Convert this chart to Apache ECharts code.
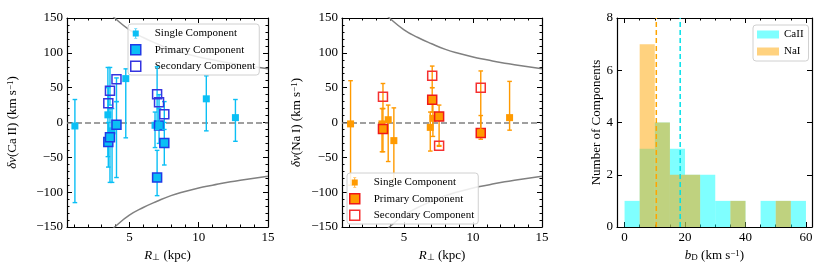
<!DOCTYPE html>
<html><head><meta charset="utf-8">
<script src="https://cdn.jsdelivr.net/npm/echarts@6/dist/echarts.min.js"></script>
<style>html,body{margin:0;padding:0;background:#fff}#c{width:830px;height:277px}</style>
</head><body><div id="c"></div>
<script>
// ---------------- data ----------------
const rTickMajor = [5, 10, 15];
const rTickMinor = [1,2,3,4,5,6,7,8,9,10,11,12,13,14,15];
const bTickMajor = [0, 20, 40, 60];
const bTickMinor = [0,5,10,15,20,25,30,35,40,45,50,55,60];

// Ca II (left panel)
const caSingleR  = [1.07, 3.45, 3.75, 4.74, 6.85, 10.55, 12.65];
const caSingleV  = [-5, 11, -12, 63, -4, 34, 7];
const caSingleLo = [-115, -49, -86, -22, -36, -12, -27];
const caSingleHi = [33, 79, 20, 77, 15, 67, 33];
const caPrimR  = [3.48, 3.6, 4.07, 7.0, 7.14, 7.52];
const caPrimV  = [-28, -21, -3.3, -79, -4.3, -29.6];
const caPrimLo = [-64, -86, -79, -105, -30, -61];
const caPrimHi = [0, 20, 30, -40, 20, 0];
const caSecR  = [3.48, 3.6, 4.07, 7.0, 7.14, 7.52];
const caSecV  = [27.8, 45.5, 62, 40.7, 29, 12];
const caSecLo = [10, 25, 30, -10, 0, -10];
const caSecHi = [50, 79, 64, 80, 40, 30];

// Na I (middle panel)
const naSingleR  = [1.12, 3.4, 3.85, 4.26, 6.9, 7.09, 12.65];
const naSingleV  = [-2, -2, 4, -26, -7, 6, 7];
const naSingleLo = [-90, -42, -56, -82, -41, -20, -11];
const naSingleHi = [60, 20, 25, 21, 15, 30, 59];
const naPrimR  = [3.47, 7.04, 7.54, 10.56];
const naPrimV  = [-9.5, 32.6, 8.6, -15];
const naPrimLo = [-42, 15, -34, -24];
const naPrimHi = [20, 50, 25, 10];
const naSecR  = [3.47, 7.04, 7.54, 10.56];
const naSecV  = [37, 67, -33.4, 50];
const naSecLo = [20, 50, -34, -10];
const naSecHi = [56, 81, -33, 74];

// grey envelope curves
const curveR = [3.5, 4, 5, 6, 7, 8, 9, 10, 11, 12, 13, 14, 15];
const curveV = [159, 149, 133, 122, 113, 105, 99, 94, 90, 86, 83, 80, 77];

// histogram of b_D
const binEdges = [0,5,10,15,20,25,30,35,40,45,50,55,60];
const caCounts = [1,3,4,3,2,2,1,1,0,1,1,1];
const naCounts = [0,7,4,2,2,0,0,1,0,0,1,0];
const caMeanB = 18.4;
const naMeanB = 10.5;

// ---------------- styling ----------------
const FONT = 'Liberation Serif';
const CYAN = '#0abff5', BLUE = '#1f3be6', BLUE2 = '#3434e0';
const ORANGE = '#ff9a00', RED = '#f01818', RED2 = '#f53030';
const GREY = '#808080';
const ts = {fontFamily: FONT, color: '#000'};
const minus = v => (v < 0 ? '\u2212' + (-v) : '' + v);

const chart = echarts.init(document.getElementById('c'), null, {renderer: 'canvas'});

const grids = [
  {left: 67, top: 18, width: 201, height: 209},
  {left: 342, top: 18, width: 200, height: 209},
  {left: 617, top: 18, width: 195, height: 209}
];

const xAxes = [], yAxes = [];
const lineSt = {color: '#000', width: 1.2};
const tickSt = {color: '#000', width: 1};

function addX(gi, min, max, majors, minors, name, rich) {
  const base = {gridIndex: gi, type: 'value', min, max, splitLine: {show: false}};
  const mainIdx = xAxes.length;
  xAxes.push(Object.assign({}, base, {
    position: 'bottom', name, nameLocation: 'middle', nameGap: 21,
    nameTextStyle: Object.assign({fontSize: 13, rich}, ts),
    axisLine: {show: true, onZero: false, lineStyle: lineSt},
    axisTick: {show: true, inside: true, length: 5, customValues: majors, lineStyle: tickSt},
    axisLabel: Object.assign({show: true, customValues: majors, margin: 4, fontSize: 13, formatter: minus}, ts)
  }));
  xAxes.push(Object.assign({}, base, {
    position: 'bottom', axisLine: {show: false, onZero: false},
    axisTick: {show: true, inside: true, length: 2.5, customValues: minors, lineStyle: tickSt},
    axisLabel: {show: false}
  }));
  xAxes.push(Object.assign({}, base, {
    position: 'top', axisLine: {show: true, onZero: false, lineStyle: lineSt},
    axisTick: {show: true, inside: true, length: 5, customValues: majors, lineStyle: tickSt},
    axisLabel: {show: false}
  }));
  xAxes.push(Object.assign({}, base, {
    position: 'top', axisLine: {show: false, onZero: false},
    axisTick: {show: true, inside: true, length: 2.5, customValues: minors, lineStyle: tickSt},
    axisLabel: {show: false}
  }));
  return mainIdx;
}
function addY(gi, min, max, interval, minor, name, gap, rich) {
  const base = {gridIndex: gi, type: 'value', min, max, interval, splitLine: {show: false},
    minorTick: {show: minor, splitNumber: 5, length: 2.5, lineStyle: tickSt}};
  const mainIdx = yAxes.length;
  yAxes.push(Object.assign({}, base, {
    position: 'left', name, nameLocation: 'middle', nameGap: gap, nameRotate: 90,
    nameTextStyle: Object.assign({fontSize: 13, rich}, ts),
    axisLine: {show: true, onZero: false, lineStyle: lineSt},
    axisTick: {show: true, inside: true, length: 5, lineStyle: tickSt},
    axisLabel: Object.assign({show: true, margin: 4, fontSize: 13, formatter: minus}, ts)
  }));
  yAxes.push(Object.assign({}, base, {
    position: 'right', axisLine: {show: true, onZero: false, lineStyle: lineSt},
    axisTick: {show: true, inside: true, length: 5, lineStyle: tickSt},
    axisLabel: {show: false}
  }));
  return mainIdx;
}

const richBase = {
  i: {fontFamily: FONT, fontStyle: 'italic', fontSize: 13, color: '#000'},
  n: {fontFamily: FONT, fontSize: 13, color: '#000'},
  sup: {fontFamily: FONT, fontSize: 9, color: '#000', verticalAlign: 'top'},
  sub: {fontFamily: FONT, fontSize: 9, color: '#000', verticalAlign: 'bottom'}
};

const x0 = addX(0, 0.5, 15, rTickMajor, rTickMinor, '{i|R}{sub|⊥}{n| (kpc)}', richBase);
const x1 = addX(1, 0.5, 15, rTickMajor, rTickMinor, '{i|R}{sub|⊥}{n| (kpc)}', richBase);
const x2 = addX(2, -2.5, 62, bTickMajor, bTickMinor, '{i|b}{sub|D}{n| (km s}{sup|−1}{n|)}', richBase);
const y0 = addY(0, -150, 150, 50, true, '{i|δv}{n|(Ca\u2009II) (km s}{sup|−1}{n|)}', 48, richBase);
const y1 = addY(1, -150, 150, 50, true, '{i|δv}{n|(Na\u2009I) (km s}{sup|−1}{n|)}', 39, richBase);
const y2 = addY(2, 0, 8, 2, false, 'Number of Components', 14, richBase);

function zip3(a, b, c) { return a.map((v, i) => [v, b[i], c[i]]); }
function zip2(a, b) { return a.map((v, i) => [v, b[i]]); }

function errSeries(xi, yi, R, Lo, Hi, color, z) {
  return {
    type: 'custom', xAxisIndex: xi, yAxisIndex: yi, z, silent: true,
    encode: {x: 0, y: [1, 2]},
    data: zip3(R, Lo, Hi),
    renderItem: function (params, api) {
      const x = api.value(0), lo = api.value(1), hi = api.value(2);
      const a = api.coord([x, hi]), b = api.coord([x, lo]);
      const w = 2.3;
      const st = {stroke: color, lineWidth: 1.4};
      return {type: 'group', children: [
        {type: 'line', shape: {x1: a[0], y1: a[1], x2: b[0], y2: b[1]}, style: st},
        {type: 'line', shape: {x1: a[0] - w, y1: a[1], x2: a[0] + w, y2: a[1]}, style: st},
        {type: 'line', shape: {x1: b[0] - w, y1: b[1], x2: b[0] + w, y2: b[1]}, style: st}
      ]};
    }
  };
}
function curveSeries(xi, yi, sign) {
  return {
    type: 'line', xAxisIndex: xi, yAxisIndex: yi, smooth: true, symbol: 'none', clip: true,
    silent: true, z: 1,
    lineStyle: {color: GREY, width: 1.5},
    data: curveR.map((r, i) => [r, sign * curveV[i]])
  };
}
function scatterPanel(xi, yi, d, c) {
  return [
    curveSeries(xi, yi, 1), curveSeries(xi, yi, -1),
    errSeries(xi, yi, d.sR, d.sLo, d.sHi, c.err, 3),
    {type: 'scatter', name: 'Single Component', xAxisIndex: xi, yAxisIndex: yi, z: 4,
      symbol: 'rect', symbolSize: 7, itemStyle: {color: c.fill, opacity: 1},
      data: zip2(d.sR, d.sV),
      markLine: {symbol: 'none', silent: true, z: 2, label: {show: false},
        lineStyle: {color: GREY, width: 1.5, type: [6, 3]}, data: [{yAxis: 0}]}},
    errSeries(xi, yi, d.pR, d.pLo, d.pHi, c.err, 5),
    {type: 'scatter', name: 'Primary Component', xAxisIndex: xi, yAxisIndex: yi, z: 6,
      symbol: 'rect', symbolSize: 9, itemStyle: {color: c.fill, borderColor: c.edge, borderWidth: 1.5, opacity: 1},
      data: zip2(d.pR, d.pV)},
    errSeries(xi, yi, d.qR, d.qLo, d.qHi, c.err, 7),
    {type: 'scatter', name: 'Secondary Component', xAxisIndex: xi, yAxisIndex: yi, z: 8,
      symbol: 'rect', symbolSize: 9, itemStyle: {color: 'rgba(0,0,0,0)', borderColor: c.edge2, borderWidth: 1.5, opacity: 1},
      data: zip2(d.qR, d.qV)}
  ];
}

const caData = {sR: caSingleR, sV: caSingleV, sLo: caSingleLo, sHi: caSingleHi,
  pR: caPrimR, pV: caPrimV, pLo: caPrimLo, pHi: caPrimHi,
  qR: caSecR, qV: caSecV, qLo: caSecLo, qHi: caSecHi};
const naData = {sR: naSingleR, sV: naSingleV, sLo: naSingleLo, sHi: naSingleHi,
  pR: naPrimR, pV: naPrimV, pLo: naPrimLo, pHi: naPrimHi,
  qR: naSecR, qV: naSecV, qLo: naSecLo, qHi: naSecHi};

function histSeries(name, counts, color, z) {
  return {
    type: 'custom', name, xAxisIndex: x2, yAxisIndex: y2, z, silent: true,
    encode: {x: [0, 1], y: 2},
    data: counts.map((c, i) => [binEdges[i], binEdges[i + 1], c]),
    renderItem: function (params, api) {
      const c = api.value(2);
      if (!c) return null;
      const p0 = api.coord([api.value(0), c]);
      const p1 = api.coord([api.value(1), 0]);
      return {type: 'rect', shape: {x: p0[0], y: p0[1], width: p1[0] - p0[0], height: p1[1] - p0[1]},
        style: {fill: color}};
    }
  };
}
function vline(val, color) {
  return {type: 'line', xAxisIndex: x2, yAxisIndex: y2, symbol: 'none', silent: true, z: 5,
    lineStyle: {color, width: 1.5, type: [5, 3]}, data: [[val, 0], [val, 8]]};
}

const series = [].concat(
  scatterPanel(x0, y0, caData, {fill: CYAN, err: CYAN, edge: BLUE, edge2: BLUE2}),
  scatterPanel(x1, y1, naData, {fill: ORANGE, err: ORANGE, edge: RED, edge2: RED2}),
  [histSeries('CaII', caCounts, 'rgba(0,255,255,0.5)', 2),
   histSeries('NaI', naCounts, 'rgba(255,165,0,0.5)', 3),
   vline(naMeanB, '#ffa500'), vline(caMeanB, '#00e0e8')]
);

const singleIcon = 'path://M0,2H2.6V0.6H1.5V0H4.5V0.6H3.4V2H6V8H3.4V9.4H4.5V10H1.5V9.4H2.6V8H0Z';
const sqIcon = 'path://M0,0H10V10H0Z';
const legendBase = {
  orient: 'vertical', itemWidth: 28, itemHeight: 10, itemGap: 5,
  backgroundColor: 'rgba(255,255,255,0.85)', borderColor: '#d0d0d0', borderWidth: 1, borderRadius: 3,
  padding: [4, 4, 3, 2], selectedMode: false,
  textStyle: {fontFamily: FONT, fontSize: 11, color: '#000'}
};
function scatterLegend(left, top, c) {
  return Object.assign({}, legendBase, {left, top, data: [
    {name: 'Single Component', icon: singleIcon, itemStyle: {color: c.fill, borderWidth: 0}},
    {name: 'Primary Component', icon: sqIcon, itemStyle: {color: c.fill, borderColor: c.edge, borderWidth: 1.5}},
    {name: 'Secondary Component', icon: sqIcon, itemStyle: {color: 'rgba(0,0,0,0)', borderColor: c.edge2, borderWidth: 1.5}}
  ]});
}

chart.setOption({
  animation: false,
  backgroundColor: '#fff',
  grid: grids,
  xAxis: xAxes,
  yAxis: yAxes,
  legend: [
    scatterLegend(128, 24, {fill: CYAN, edge: BLUE, edge2: BLUE2}),
    scatterLegend(347, 173, {fill: ORANGE, edge: RED, edge2: RED2}),
    Object.assign({}, legendBase, {left: 753, top: 25, itemWidth: 22, itemHeight: 8, itemGap: 6,
      padding: [4, 5, 4, 4],
      data: [
        {name: 'CaII', icon: 'rect', itemStyle: {color: 'rgba(0,255,255,0.5)', borderWidth: 0}},
        {name: 'NaI', icon: 'rect', itemStyle: {color: 'rgba(255,165,0,0.5)', borderWidth: 0}}
      ]})
  ],
  series
});
</script>
</body></html>
